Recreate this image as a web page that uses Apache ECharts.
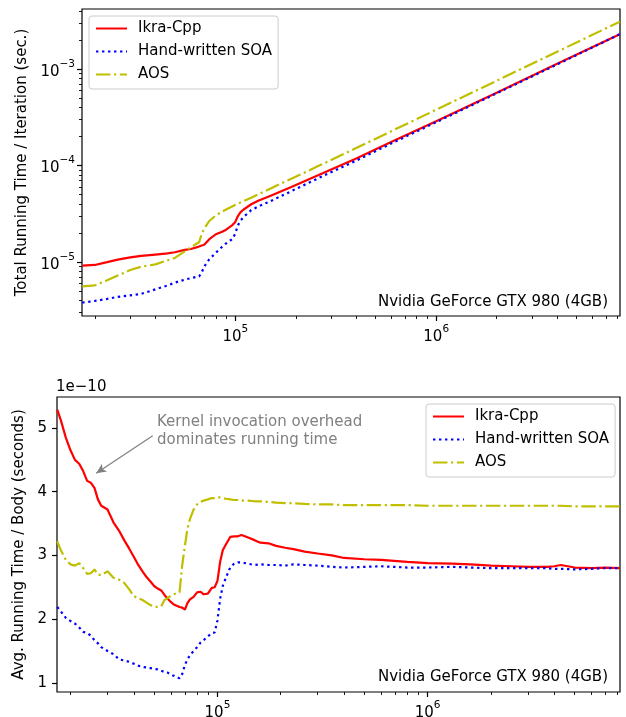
<!DOCTYPE html>
<html>
<head>
<meta charset="utf-8">
<script src="https://cdn.jsdelivr.net/npm/echarts@6/dist/echarts.min.js"></script>
<style>
  html, body { margin: 0; padding: 0; background: #fff; }
  #chart { width: 626px; height: 717px; }
</style>
</head>
<body>
<div id="chart"></div>
<script>
/* global echarts */
const seriesNames = ['Ikra-Cpp', 'Hand-written SOA', 'AOS'];

// bottom panel: number of bodies and avg time per body (units of 1e-10 s)
const nBodies = [
  17300, 18000, 19000, 20000, 21000, 22000, 23000, 24000, 25000, 26000,
  27000, 28000, 30000, 32000, 34000, 36000, 38000, 40000, 42000, 44000,
  46000, 48000, 50000, 52000, 54000, 56000, 58000, 60000, 62000, 64000,
  66000, 68000, 70000, 72000, 74000, 77000, 80000, 83000, 86000, 90000,
  94000, 97000, 100000, 103000, 106000, 110000, 115000, 120000, 125000, 130000,
  140000, 150000, 160000, 175000, 190000, 210000, 230000, 260000, 300000, 350000,
  400000, 500000, 600000, 800000, 1000000, 1300000, 1600000, 2000000, 2500000, 3000000,
  3700000, 4000000, 4300000, 5000000, 6000000, 7000000, 8200000
];
const ikraAvg = [
  5.29, 5.12, 4.85, 4.65, 4.50, 4.44, 4.32, 4.17, 4.14, 4.06,
  3.88, 3.78, 3.72, 3.52, 3.39, 3.24, 3.11, 2.98, 2.85, 2.75,
  2.66, 2.59, 2.52, 2.48, 2.45, 2.38, 2.32, 2.27, 2.23, 2.21,
  2.19, 2.18, 2.15, 2.25, 2.31, 2.35, 2.42, 2.43, 2.39, 2.40,
  2.49, 2.50, 2.60, 2.90, 3.08, 3.18, 3.29, 3.30, 3.30, 3.32,
  3.28, 3.24, 3.20, 3.19, 3.15, 3.12, 3.10, 3.06, 3.03, 3.00,
  2.96, 2.94, 2.93, 2.90, 2.88, 2.87, 2.86, 2.84, 2.83, 2.82,
  2.82, 2.83, 2.85, 2.81, 2.80, 2.81, 2.80
];
const soaAvg = [
  2.19, 2.12, 2.02, 1.97, 1.93, 1.87, 1.80, 1.78, 1.74, 1.67,
  1.62, 1.56, 1.50, 1.45, 1.37, 1.35, 1.33, 1.30, 1.27, 1.25,
  1.24, 1.23, 1.22, 1.21, 1.19, 1.17, 1.16, 1.13, 1.11, 1.09,
  1.07, 1.14, 1.28, 1.37, 1.43, 1.50, 1.56, 1.63, 1.67, 1.73,
  1.78, 1.79, 1.98, 2.32, 2.52, 2.66, 2.81, 2.87, 2.89, 2.89,
  2.87, 2.85, 2.86, 2.85, 2.85, 2.84, 2.86, 2.85, 2.84, 2.82,
  2.81, 2.82, 2.83, 2.81, 2.81, 2.82, 2.81, 2.80, 2.80, 2.80,
  2.80, 2.79, 2.79, 2.78, 2.79, 2.80, 2.80
];
const aosAvg = [
  3.22, 3.08, 2.93, 2.86, 2.84, 2.88, 2.80, 2.71, 2.72, 2.78,
  2.70, 2.69, 2.75, 2.65, 2.62, 2.57, 2.47, 2.36, 2.33, 2.30,
  2.26, 2.22, 2.20, 2.19, 2.20, 2.30, 2.33, 2.37, 2.39, 2.41,
  2.42, 2.85, 3.15, 3.42, 3.57, 3.72, 3.80, 3.84, 3.86, 3.88,
  3.90, 3.90, 3.91, 3.91, 3.90, 3.89, 3.88, 3.87, 3.87, 3.86,
  3.86, 3.85, 3.85, 3.84, 3.83, 3.82, 3.82, 3.81, 3.80, 3.80,
  3.79, 3.79, 3.79, 3.79, 3.78, 3.78, 3.78, 3.78, 3.78, 3.78,
  3.78, 3.78, 3.78, 3.77, 3.77, 3.77, 3.77
];

// top panel: total running time per iteration (sec.)
const topN = [
  17300, 20000, 23000, 26000, 30000, 34000, 40000, 46000, 50000, 56000,
  60000, 64000, 66000, 68000, 70000, 74000, 80000, 86000, 90000, 97000,
  100000, 103000, 106000, 110000, 120000, 130000, 150000, 190000, 260000, 400000,
  600000, 1000000, 2000000, 4000000, 8200000
];
const ikraTotal = [
  9.15e-6, 9.30e-6, 9.94e-6, 1.056e-5, 1.116e-5, 1.153e-5, 1.192e-5, 1.224e-5, 1.26e-5, 1.333e-5,
  1.362e-5, 1.414e-5, 1.445e-5, 1.482e-5, 1.505e-5, 1.709e-5, 1.936e-5, 2.055e-5, 2.16e-5, 2.425e-5,
  2.60e-5, 2.99e-5, 3.26e-5, 3.498e-5, 3.96e-5, 4.316e-5, 4.86e-5, 5.985e-5, 7.956e-5, 1.184e-4,
  1.758e-4, 2.88e-4, 5.68e-4, 1.132e-3, 2.296e-3
];
const soaTotal = [
  3.79e-6, 3.94e-6, 4.14e-6, 4.34e-6, 4.50e-6, 4.66e-6, 5.20e-6, 5.70e-6, 6.10e-6, 6.55e-6,
  6.78e-6, 6.98e-6, 7.06e-6, 7.75e-6, 8.96e-6, 1.058e-5, 1.248e-5, 1.436e-5, 1.557e-5, 1.736e-5,
  1.98e-5, 2.39e-5, 2.671e-5, 2.926e-5, 3.444e-5, 3.757e-5, 4.275e-5, 5.415e-5, 7.41e-5, 1.124e-4,
  1.698e-4, 2.81e-4, 5.60e-4, 1.116e-3, 2.296e-3
];
const aosTotal = [
  5.57e-6, 5.72e-6, 6.44e-6, 7.23e-6, 8.25e-6, 8.91e-6, 9.44e-6, 1.04e-5, 1.10e-5, 1.288e-5,
  1.422e-5, 1.542e-5, 1.597e-5, 1.938e-5, 2.205e-5, 2.642e-5, 3.04e-5, 3.32e-5, 3.49e-5, 3.78e-5,
  3.91e-5, 4.03e-5, 4.13e-5, 4.28e-5, 4.64e-5, 5.02e-5, 5.78e-5, 7.28e-5, 9.91e-5, 1.516e-4,
  2.274e-4, 3.78e-4, 7.56e-4, 1.512e-3, 3.091e-3
];

// ticks
const majorN = [1e5, 1e6];
const minorN = [2e4, 3e4, 4e4, 5e4, 6e4, 7e4, 8e4, 9e4, 2e5, 3e5, 4e5, 5e5, 6e5, 7e5, 8e5, 9e5,
  2e6, 3e6, 4e6, 5e6, 6e6, 7e6, 8e6];
const majorTotal = [1e-5, 1e-4, 1e-3];
const minorTotal = [3e-6, 4e-6, 5e-6, 6e-6, 7e-6, 8e-6, 9e-6, 2e-5, 3e-5, 4e-5, 5e-5, 6e-5, 7e-5, 8e-5, 9e-5,
  2e-4, 3e-4, 4e-4, 5e-4, 6e-4, 7e-4, 8e-4, 9e-4, 2e-3, 3e-3, 4e-3];
const avgTicks = [1, 2, 3, 4, 5];

// annotation arrow (data coords of bottom panel)
const arrowTail = [49200, 4.88];
const arrowHead = [26500, 4.29];

const FONT = 'DejaVu Sans';
const FS = 15;
const colors = { 'Ikra-Cpp': '#ff0000', 'Hand-written SOA': '#0000ff', 'AOS': '#bfbf00' };
const dashes = { 'Ikra-Cpp': 'solid', 'Hand-written SOA': [2.4, 3.6], 'AOS': [14.4, 3.6, 2.25, 3.6] };

const chart = echarts.init(document.getElementById('chart'), null, { renderer: 'canvas' });

const powRich = {
  b: { fontSize: FS, fontFamily: FONT, color: '#000', lineHeight: 21, verticalAlign: 'bottom' },
  s: { fontSize: 10.5, fontFamily: FONT, color: '#000', lineHeight: 12, verticalAlign: 'top' }
};
function powLabel(v) {
  const e = Math.round(Math.log10(v));
  return '{b|10}{s|' + (e < 0 ? '\u2212' + (-e) : e) + '}';
}

function majorTickAxis(gridIndex, type, min, max, ticks, labelOpts, position) {
  return {
    gridIndex, type, min, max, position,
    axisLine: { show: false, onZero: false },
    splitLine: { show: false },
    axisTick: { show: true, customValues: ticks, length: 5, lineStyle: { color: '#000', width: 1.2 } },
    axisLabel: Object.assign({ customValues: ticks, margin: 8, color: '#000', fontFamily: FONT, fontSize: FS }, labelOpts)
  };
}
function minorTickAxis(gridIndex, min, max, ticks, position) {
  return {
    gridIndex, type: 'log', min, max, position,
    axisLine: { show: false, onZero: false },
    splitLine: { show: false },
    axisTick: { show: true, customValues: ticks, length: 3, lineStyle: { color: '#000', width: 0.9 } },
    axisLabel: { show: false }
  };
}

const xMin = 17250;
const xMax = 8.22e6;

const xAxis = [
  majorTickAxis(0, 'log', xMin, xMax, majorN, { formatter: powLabel, rich: powRich }, 'bottom'),
  minorTickAxis(0, xMin, xMax, minorN, 'bottom'),
  majorTickAxis(1, 'log', xMin, xMax, majorN, { formatter: powLabel, rich: powRich }, 'bottom'),
  minorTickAxis(1, xMin, xMax, minorN, 'bottom')
];

const yTop = majorTickAxis(0, 'log', 2.75e-6, 4.19e-3, majorTotal, { formatter: powLabel, rich: powRich, margin: 7 }, 'left');
yTop.name = 'Total Running Time / Iteration (sec.)';
yTop.nameLocation = 'middle';
yTop.nameGap = 52;
yTop.nameTextStyle = { fontFamily: FONT, fontSize: FS, color: '#000' };

const yBottom = majorTickAxis(1, 'value', 0.856, 5.487, avgTicks, { formatter: v => String(v), margin: 10 }, 'left');
yBottom.name = 'Avg. Running Time / Body (seconds)';
yBottom.nameLocation = 'middle';
yBottom.nameGap = 27;
yBottom.nameTextStyle = { fontFamily: FONT, fontSize: FS, color: '#000' };

const yAxis = [
  yTop,
  minorTickAxis(0, 2.75e-6, 4.19e-3, minorTotal, 'left'),
  yBottom
];

const series = [];
const topData = { 'Ikra-Cpp': ikraTotal, 'Hand-written SOA': soaTotal, 'AOS': aosTotal };
const avgData = { 'Ikra-Cpp': ikraAvg, 'Hand-written SOA': soaAvg, 'AOS': aosAvg };

seriesNames.forEach(name => {
  series.push({
    type: 'line', name, xAxisIndex: 0, yAxisIndex: 0,
    data: topN.map((n, i) => [n, topData[name][i]]),
    symbol: 'none',
    lineStyle: { color: colors[name], width: 2.2, type: dashes[name] },
    itemStyle: { color: colors[name] }
  });
});
seriesNames.forEach(name => {
  const s = {
    type: 'line', name, xAxisIndex: 2, yAxisIndex: 2,
    data: nBodies.map((n, i) => [n, avgData[name][i]]),
    symbol: 'none',
    lineStyle: { color: colors[name], width: 2.2, type: dashes[name] },
    itemStyle: { color: colors[name] }
  };
  if (name === 'Ikra-Cpp') {
    s.markLine = {
      silent: true,
      symbol: ['none', 'arrow'],
      symbolSize: [7, 10],
      lineStyle: { color: '#808080', width: 1.2, type: 'solid' },
      label: { show: false },
      data: [[{ coord: arrowTail }, { coord: arrowHead }]]
    };
  }
  series.push(s);
});

function legendAt(left, top) {
  return {
    data: seriesNames,
    orient: 'vertical',
    left, top,
    itemWidth: 31, itemHeight: 14, itemGap: 8,
    padding: [5, 6, 7, 6],
    backgroundColor: 'rgba(255,255,255,0.8)',
    borderColor: '#cccccc', borderWidth: 1, borderRadius: 3,
    selectedMode: false,
    itemStyle: { color: 'rgba(0,0,0,0)', borderColor: 'rgba(0,0,0,0)', borderWidth: 0 },
    textStyle: { fontFamily: FONT, fontSize: FS, color: '#000', padding: [0, 0, 0, 6] }
  };
}

chart.setOption({
  animation: false,
  backgroundColor: '#fff',
  grid: [
    { left: 82, top: 9, width: 538, height: 307, show: true, borderColor: '#000', borderWidth: 1.2, backgroundColor: 'transparent', outerBoundsMode: 'none' },
    { left: 57, top: 397, width: 563, height: 295, show: true, borderColor: '#000', borderWidth: 1.2, backgroundColor: 'transparent', outerBoundsMode: 'none' }
  ],
  xAxis,
  yAxis,
  legend: [legendAt(89, 16), legendAt(426, 404)],
  series,
  graphic: [
    { type: 'text', x: 608, y: 302, style: { text: 'Nvidia GeForce GTX 980 (4GB)', fill: '#000', fontFamily: FONT, fontSize: FS, align: 'right', verticalAlign: 'middle' } },
    { type: 'text', x: 608, y: 677, style: { text: 'Nvidia GeForce GTX 980 (4GB)', fill: '#000', fontFamily: FONT, fontSize: FS, align: 'right', verticalAlign: 'middle' } },
    { type: 'text', x: 56, y: 387, style: { text: '1e\u221210', fill: '#000', fontFamily: FONT, fontSize: FS, align: 'left', verticalAlign: 'middle' } },
    { type: 'text', x: 157, y: 413, style: { text: 'Kernel invocation overhead\ndominates running time', fill: '#808080', fontFamily: FONT, fontSize: FS, lineHeight: 18, align: 'left', verticalAlign: 'top' } }
  ]
});
</script>
</body>
</html>
